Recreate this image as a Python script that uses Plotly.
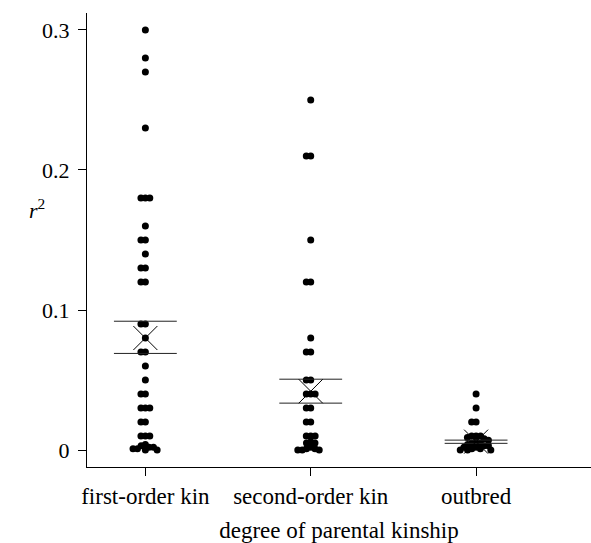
import plotly.graph_objects as go

categories = ["first-order kin", "second-order kin", "outbred"]

first_order = [0.30, 0.28, 0.27, 0.23, 0.18, 0.18, 0.18, 0.16, 0.15, 0.15, 0.14,
               0.13, 0.13, 0.12, 0.12, 0.09, 0.09, 0.08, 0.07, 0.07, 0.06, 0.05,
               0.04, 0.04, 0.03, 0.03, 0.03, 0.02, 0.02, 0.01, 0.01, 0.01,
               0.004, 0.003, 0.002, 0.002, 0.001, 0.001, 0.0, 0.0]
second_order = [0.25, 0.21, 0.21, 0.15, 0.12, 0.12, 0.08, 0.07, 0.07, 0.05, 0.05,
                0.04, 0.04, 0.04, 0.03, 0.03, 0.02, 0.02, 0.01, 0.01, 0.01,
                0.006, 0.005, 0.005, 0.002, 0.001, 0.001, 0.0, 0.0, 0.0]
outbred = [0.04, 0.03, 0.02, 0.02, 0.01, 0.01, 0.01, 0.009, 0.008, 0.007, 0.006,
           0.005, 0.005, 0.004, 0.003, 0.003, 0.002, 0.002, 0.001, 0.001, 0.0, 0.0, 0.0]

means = [0.080, 0.042, 0.006]
se_low = [0.069, 0.0335, 0.0048]
se_high = [0.092, 0.0506, 0.0071]

groups = [first_order, second_order, outbred]

# swarm layout that lets dots overlap a little, like the original
PX_X = 187.0
PX_Y = 1403.0
SEP = 5.0


def swarm(vals):
    placed = []
    out = []
    for v in vals:
        y = v * PX_Y
        cands = [0.0]
        for (px, py) in placed:
            dy = abs(py - y)
            if dy < SEP:
                w = (SEP ** 2 - dy ** 2) ** 0.5
                cands += [px + w + 0.01, px - w - 0.01]
        cands.sort(key=lambda c: (abs(c), c))
        for c in cands:
            ok = all((c - px) ** 2 + (y - py) ** 2 >= SEP ** 2 - 1e-6 for px, py in placed)
            if ok:
                placed.append((c, y))
                out.append(c / PX_X)
                break
    return out


fig = go.Figure()

for i, vals in enumerate(groups):
    offs = swarm(vals)
    fig.add_trace(go.Scatter(
        x=[i + o for o in offs], y=vals, mode="markers",
        marker=dict(color="black", size=7, line=dict(width=0)),
        showlegend=False, hoverinfo="y"))

HALF = 0.19
for i in range(3):
    for v in (se_low[i], se_high[i]):
        fig.add_trace(go.Scatter(
            x=[i - HALF, i + HALF], y=[v, v], mode="lines",
            line=dict(color="#222222", width=1), showlegend=False, hoverinfo="skip"))
    fig.add_trace(go.Scatter(
        x=[i], y=[means[i]], mode="markers",
        marker=dict(symbol="x-thin", size=24, line=dict(color="black", width=1)),
        showlegend=False, hoverinfo="y"))

FAM = "'Liberation Serif', 'DejaVu Serif', serif"
font = dict(family=FAM, size=23, color="black")
yfont = dict(family=FAM, size=22, color="black")

fig.update_layout(
    width=591, height=543,
    margin=dict(l=87, r=0, t=13, b=76),
    plot_bgcolor="white", paper_bgcolor="white",
    font=font,
    xaxis=dict(
        range=[-0.353, 2.695], tickvals=[0, 1, 2], ticktext=categories,
        tickfont=font, automargin=False,
        showline=True, linecolor="black", linewidth=1, ticks="outside",
        ticklen=8, tickcolor="black", showgrid=False, zeroline=False,
        title=dict(text="degree of parental kinship", font=font, standoff=14),
    ),
    yaxis=dict(
        range=[-0.0121, 0.3121], tickvals=[0, 0.1, 0.2, 0.3],
        ticktext=["0", "0.1", "0.2", "0.3"],
        tickfont=yfont, automargin=False,
        showline=True, linecolor="black", linewidth=1, ticks="outside",
        ticklen=8, tickcolor="black", showgrid=False, zeroline=False,
        ticklabelstandoff=4,
    ),
    annotations=[dict(
        text="<i>r</i><sup>2</sup>", xref="paper", yref="y", x=-0.1, y=0.172,
        showarrow=False, xanchor="center", yanchor="middle", font=yfont)],
)

fig.write_html("out.html")
